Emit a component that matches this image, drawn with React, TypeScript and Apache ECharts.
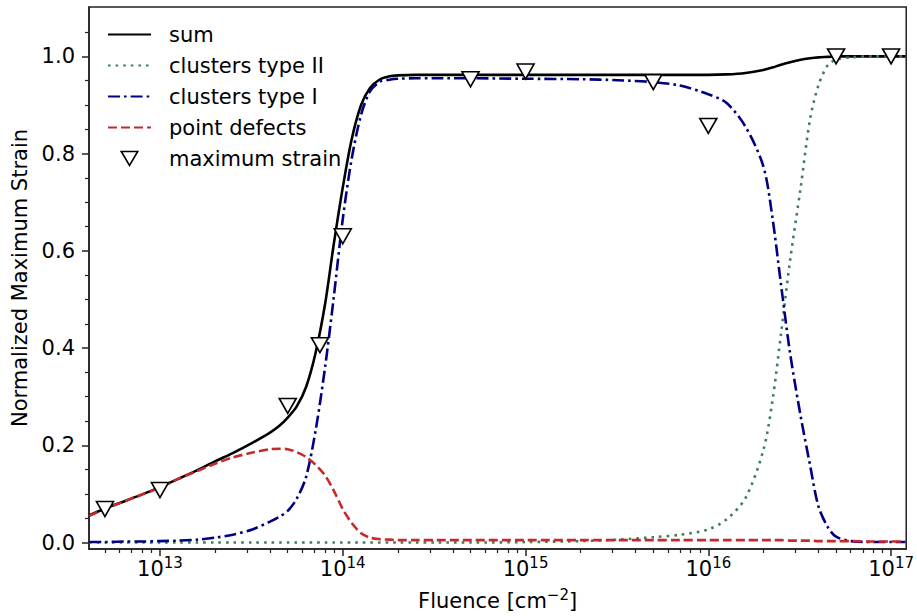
import React, { useEffect, useRef } from "react";
import * as echarts from "echarts";

// ---- data ----
const fluence = [
  4.1e12, 5e12, 6.3e12, 8e12, 1e13, 1.26e13, 1.6e13, 2e13, 2.5e13, 3.2e13, 4e13, 4.5e13, 5e13,
  5.6e13, 6.3e13, 7.1e13, 8e13, 8.9e13, 1e14, 1.12e14, 1.26e14, 1.41e14, 1.6e14, 1.8e14, 2e14,
  2.5e14, 3.2e14, 5e14, 1e15, 2e15, 3.2e15, 5e15, 7e15, 1e16, 1.26e16, 1.6e16, 2e16, 2.24e16,
  2.5e16, 2.8e16, 3.2e16, 3.6e16, 4e16, 4.5e16, 5e16, 6e16, 8e16, 1e17, 1.2e17,
];
const sumValues = [
  0.056, 0.07, 0.084, 0.099, 0.114, 0.131, 0.149, 0.167, 0.184, 0.205, 0.226, 0.24, 0.257,
  0.28, 0.32, 0.39, 0.49, 0.61, 0.73, 0.83, 0.9, 0.935, 0.953, 0.959, 0.961,
  0.962, 0.962, 0.962, 0.962, 0.962, 0.962, 0.962, 0.962, 0.962, 0.963, 0.966, 0.972, 0.977,
  0.983, 0.988, 0.993, 0.996, 0.998, 0.999, 1.0, 1.0, 1.0, 1.0, 1.0,
];
const clustersTypeII = [
  0, 0, 0, 0, 0, 0, 0, 0, 0, 0, 0, 0, 0,
  0, 0, 0, 0, 0, 0, 0, 0, 0, 0, 0, 0,
  0, 0, 0, 0.001, 0.003, 0.006, 0.011, 0.016, 0.027, 0.048, 0.092, 0.19, 0.29,
  0.43, 0.58, 0.73, 0.87, 0.94, 0.982, 0.993, 0.998, 1.0, 1.0, 1.0,
];
const clustersTypeI = [
  0.001, 0.001, 0.002, 0.002, 0.003, 0.004, 0.006, 0.01, 0.016, 0.027, 0.043, 0.053, 0.065,
  0.09, 0.135, 0.23, 0.36, 0.5, 0.665, 0.79, 0.88, 0.928, 0.948, 0.952, 0.954,
  0.955, 0.955, 0.955, 0.954, 0.953, 0.951, 0.947, 0.94, 0.922, 0.904, 0.855, 0.774, 0.67,
  0.53, 0.39, 0.26, 0.16, 0.075, 0.032, 0.012, 0.003, 0.001, 0.001, 0.001,
];
const pointDefects = [
  0.055, 0.069, 0.084, 0.099, 0.113, 0.131, 0.147, 0.162, 0.175, 0.185, 0.192, 0.193, 0.192,
  0.186, 0.176, 0.16, 0.138, 0.108, 0.069, 0.04, 0.019, 0.01, 0.007, 0.006, 0.005,
  0.005, 0.005, 0.005, 0.005, 0.005, 0.005, 0.005, 0.005, 0.005, 0.005, 0.005, 0.005, 0.005,
  0.005, 0.004, 0.004, 0.004, 0.003, 0.003, 0.003, 0.003, 0.002, 0.002, 0.002,
];
const measuredFluence = [5e12, 1e13, 5e13, 7.5e13, 1e14, 5e14, 1e15, 5e15, 1e16, 5e16, 1e17];
const measuredStrain = [0.069, 0.108, 0.281, 0.406, 0.63, 0.953, 0.969, 0.947, 0.857, 1.0, 1.0];

const xMajorExponents = [13, 14, 15, 16, 17];
const xMinorMantissas = [2, 3, 4, 5, 6, 7, 8, 9];
const xMinorDecades = [12, 13, 14, 15, 16];
const yMajorTicks = [0, 0.2, 0.4, 0.6, 0.8, 1.0];
const yMinorTicks = [0.05, 0.1, 0.15, 0.25, 0.3, 0.35, 0.45, 0.5, 0.55, 0.65, 0.7, 0.75, 0.85, 0.9, 0.95, 1.05];

const X_MIN = 4.09e12;
const X_MAX = 1.21e17;
const Y_MIN = -0.0133;
const Y_MAX = 1.1016;

const FONT = "DejaVu Sans";
const DOWN_TRIANGLE = "path://M0,0 L20,0 L10,17 Z";

function pairs(xs: number[], ys: number[]) {
  return xs.map((x, i) => [x, ys[i]]);
}

export default function App() {
  const ref = useRef<HTMLDivElement>(null);
  useEffect(() => {
    if (!ref.current) return;
    const chart = echarts.init(ref.current, undefined, { renderer: "svg" });
    const lxMin = Math.log10(X_MIN);
    const lxMax = Math.log10(X_MAX);
    const minorX: number[] = [];
    xMinorDecades.forEach((d) =>
      xMinorMantissas.forEach((m) => {
        const v = d + Math.log10(m);
        if (v > lxMin && v < lxMax) minorX.push(v);
      })
    );
    const lineCommon = {
      type: "line" as const,
      xAxisIndex: 0,
      yAxisIndex: 0,
      symbol: "none",
      showSymbol: false,
      smooth: 0.3,
      silent: true,
    };
    const hiddenMarker = { color: "transparent", borderColor: "transparent", borderWidth: 0, opacity: 0 };
    const option: any = {
      animation: false,
      textStyle: { fontFamily: FONT },
      grid: {
        left: 89,
        top: 7,
        width: 818,
        height: 543,
        show: true,
        borderColor: "#222",
        borderWidth: 1.5,
        backgroundColor: "transparent",
        containLabel: false,
      },
      legend: {
        orient: "vertical",
        left: 107,
        top: 24,
        padding: 0,
        itemGap: 10,
        itemWidth: 43,
        itemHeight: 14,
        textStyle: { fontSize: 21, color: "#000", fontFamily: FONT, lineHeight: 21, padding: [0, 0, 0, 13] },
        data: [
          { name: "sum", itemStyle: hiddenMarker },
          { name: "clusters type II", itemStyle: hiddenMarker },
          { name: "clusters type I", itemStyle: hiddenMarker },
          { name: "point defects", itemStyle: hiddenMarker },
          {
            name: "maximum strain",
            icon: DOWN_TRIANGLE,
            itemStyle: { color: "#fff", borderColor: "#000", borderWidth: 1.6, opacity: 1 },
          },
        ],
      },
      xAxis: [
        { type: "log", min: X_MIN, max: X_MAX, show: false, logBase: 10 },
        {
          type: "value",
          min: lxMin,
          max: lxMax,
          position: "bottom",
          axisLine: { show: true, onZero: false, lineStyle: { color: "#222", width: 1.5 } },
          axisTick: { show: true, length: 7, customValues: xMajorExponents, lineStyle: { color: "#222", width: 1.5 } },
          axisLabel: {
            show: true,
            customValues: xMajorExponents,
            margin: 6,
            formatter: (v: number) => `{b|10}{s|${Math.round(v)}}`,
            rich: {
              b: { fontSize: 21, color: "#000", fontFamily: FONT },
              s: { fontSize: 15, color: "#000", fontFamily: FONT, padding: [0, 0, 12, 0] },
            },
          },
          splitLine: { show: false },
          name: "{a|Fluence [cm}{s|−2}{a|]}",
          nameLocation: "middle",
          nameGap: 38,
          nameTextStyle: {
            rich: {
              a: { fontSize: 21, color: "#000", fontFamily: FONT },
              s: { fontSize: 15, color: "#000", fontFamily: FONT, padding: [0, 0, 12, 0] },
            },
          },
        },
        {
          type: "value",
          min: lxMin,
          max: lxMax,
          position: "bottom",
          axisLine: { show: false, onZero: false },
          axisTick: { show: true, length: 4, customValues: minorX, lineStyle: { color: "#222", width: 1.2 } },
          axisLabel: { show: false },
          splitLine: { show: false },
        },
      ],
      yAxis: [
        {
          type: "value",
          min: Y_MIN,
          max: Y_MAX,
          position: "left",
          axisLine: { show: true, onZero: false, lineStyle: { color: "#222", width: 1.5 } },
          axisTick: { show: true, length: 7, customValues: yMajorTicks, lineStyle: { color: "#222", width: 1.5 } },
          axisLabel: {
            show: true,
            customValues: yMajorTicks,
            margin: 14,
            fontSize: 21,
            color: "#000",
            fontFamily: FONT,
            formatter: (v: number) => v.toFixed(1),
          },
          splitLine: { show: false },
          name: "Normalized Maximum Strain",
          nameLocation: "middle",
          nameGap: 58,
          nameTextStyle: { fontSize: 21, color: "#000", fontFamily: FONT },
        },
        {
          type: "value",
          min: Y_MIN,
          max: Y_MAX,
          position: "left",
          axisLine: { show: false, onZero: false },
          axisTick: { show: true, length: 4, customValues: yMinorTicks, lineStyle: { color: "#222", width: 1.2 } },
          axisLabel: { show: false },
          splitLine: { show: false },
        },
      ],
      series: [
        {
          ...lineCommon,
          name: "sum",
          data: pairs(fluence, sumValues),
          lineStyle: { color: "#000", width: 2.6, type: "solid" },
          itemStyle: { color: "#000" },
          z: 2,
        },
        {
          ...lineCommon,
          name: "clusters type II",
          data: pairs(fluence, clustersTypeII),
          lineStyle: { color: "#3b7f5a", width: 2.6, type: [2.6, 5], cap: "butt" },
          itemStyle: { color: "#3b7f5a" },
          z: 3,
        },
        {
          ...lineCommon,
          name: "clusters type I",
          data: pairs(fluence, clustersTypeI),
          lineStyle: { color: "#000080", width: 2.6, type: [12, 4, 2.6, 4], cap: "butt" },
          itemStyle: { color: "#000080" },
          z: 4,
        },
        {
          ...lineCommon,
          name: "point defects",
          data: pairs(fluence, pointDefects),
          lineStyle: { color: "#c8282a", width: 2.6, type: [9, 4], cap: "butt" },
          itemStyle: { color: "#c8282a" },
          z: 5,
        },
        {
          type: "scatter",
          name: "maximum strain",
          xAxisIndex: 0,
          yAxisIndex: 0,
          data: pairs(measuredFluence, measuredStrain),
          symbol: DOWN_TRIANGLE,
          symbolSize: [17, 15],
          symbolKeepAspect: false,
          itemStyle: { color: "#fff", borderColor: "#000", borderWidth: 1.6, opacity: 1 },
          silent: true,
          z: 10,
        },
      ],
    };
    chart.setOption(option);
    return () => chart.dispose();
  }, []);
  return (
    <div
      ref={ref}
      style={{ position: "fixed", left: 0, top: 0, width: 917, height: 616, background: "#fff" }}
    />
  );
}
